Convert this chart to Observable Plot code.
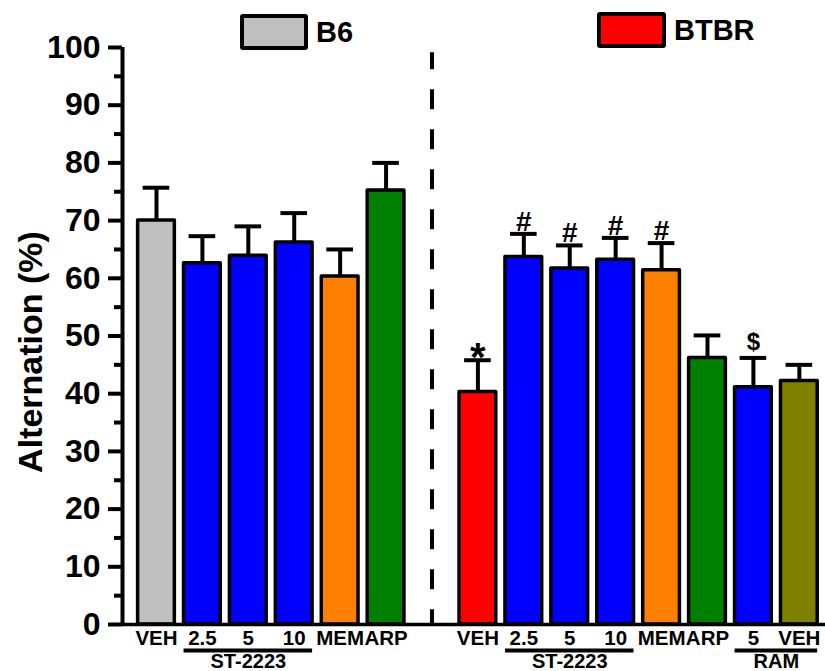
<!DOCTYPE html>
<html><head><meta charset="utf-8">
<script src="https://cdn.jsdelivr.net/npm/d3@7"></script>
<script src="https://cdn.jsdelivr.net/npm/@observablehq/plot@0.6"></script>
<style>
body{margin:0;background:#fff;font-family:"Liberation Sans",Arial,sans-serif;}
#wrap{position:relative;width:825px;height:671px;overflow:hidden}
.leg{position:absolute;display:flex;align-items:center}
.sw{box-sizing:border-box;border:4px solid #000;border-radius:3px}
.lt{font-weight:bold;font-size:29px;margin-left:8px;line-height:1}
</style></head><body><div id="wrap"></div>
<script>
// ---- data ----
const groupLabels = ["VEH","2.5","5","10","MEM","ARP","VEH","2.5","5","10","MEM","ARP","5","VEH"];
const slots       = [0,1,2,3,4,5,7,8,9,10,11,12,13,14];
const strains     = ["B6","B6","B6","B6","B6","B6","BTBR","BTBR","BTBR","BTBR","BTBR","BTBR","BTBR","BTBR"];
const treatments  = ["B6 VEH","ST-2223","ST-2223","ST-2223","MEM","ARP","BTBR VEH","ST-2223","ST-2223","ST-2223","MEM","ARP","RAM","RAM VEH"];
const means       = [70.0,62.6,63.9,66.2,60.3,75.2, 40.3,63.7,61.7,63.2,61.4,46.2,41.1,42.2];
const sems        = [5.7,4.7,5.1,5.1,4.7,4.8, 5.5,4.0,4.0,3.8,4.7,3.9,5.1,2.8];
const signif      = ["","","","","","","*","#","#","#","#","","$",""];
const brackets    = [{label:"ST-2223",from:1,to:3},{label:"ST-2223",from:8,to:10},{label:"RAM",from:13,to:14}];
const dividerSlot = 6;
const yMajor = [0,10,20,30,40,50,60,70,80,90,100];
const yMinor = [5,15,25,35,45,55,65,75,85,95];
const legendItems = [{name:"B6",key:"B6 VEH"},{name:"BTBR",key:"BTBR VEH"}];

const colorDomain = ["B6 VEH","BTBR VEH","ST-2223","MEM","ARP","RAM","RAM VEH"];
const colorRange  = ["#c0c0c0","#ff0000","#0000ff","#ff8000","#008000","#0000ff","#808000"];

const data = slots.map((s,i)=>({slot:s,label:groupLabels[i],strain:strains[i],treatment:treatments[i],mean:means[i],sem:sems[i],sig:signif[i]}));
const xDomain = [-0.74, 14.57];

const chart = Plot.plot({
  width: 825, height: 671,
  marginLeft: 122, marginRight: 0, marginTop: 47, marginBottom: 47,
  style: {fontFamily: "'Liberation Sans', Arial, sans-serif", color: "black", background: "white", overflow: "visible"},
  x: {type: "linear", domain: xDomain, label: null},
  y: {domain: [0,100], label: null},
  color: {domain: colorDomain, range: colorRange},
  marks: [
    Plot.ruleX([dividerSlot], {y1: 99.1, y2: 0, strokeWidth: 4, strokeDasharray: "20,20", strokeDashoffset: 3}),
    Plot.ruleX(data, {x: "slot", y1: "mean", y2: d => d.mean + d.sem, strokeWidth: 4}),
    Plot.ruleY(data, {y: d => d.mean + d.sem, x1: d => d.slot - 0.29, x2: d => d.slot + 0.29, strokeWidth: 4}),
    Plot.rect(data, {x1: d => d.slot - 0.4, x2: d => d.slot + 0.4, y1: d => 0, y2: "mean", fill: "treatment", stroke: "black", strokeWidth: 3.5, strokeLinejoin: "round"}),
    Plot.ruleY([0], {strokeWidth: 3.5}),
    Plot.ruleX([xDomain[0]], {y1: 0, y2: 100, strokeWidth: 4}),
    Plot.axisY({ticks: yMajor, tickSize: 14, tickPadding: 8, strokeWidth: 4, fontSize: 32, fontWeight: "bold", label: null}),
    Plot.axisY({ticks: yMinor, tickSize: 8, tickFormat: () => "", strokeWidth: 4, label: null}),
    Plot.axisX({ticks: slots, tickFormat: d => groupLabels[slots.indexOf(d)], tickSize: 0, tickPadding: 6, fontSize: 20.5, fontWeight: "bold", label: null}),
    Plot.text(["Alternation (%)"], {frameAnchor: "left", textAnchor: "middle", rotate: -90, dx: -91, dy: 16, text: d => d, fontSize: 34, fontWeight: "bold"}),
    Plot.ruleY(brackets, {y: d => 0, dy: 26, x1: d => d.from - 0.4, x2: d => d.to + 0.4, strokeWidth: 4}),
    Plot.text(brackets, {x: d => (d.from + d.to) / 2, y: d => 0, dy: 37, text: "label", fontSize: 20, fontWeight: "bold"}),
    Plot.text(data.filter(d => d.sig === "#"), {x: "slot", y: d => d.mean + d.sem, text: "sig", fontSize: 28, fontWeight: "bold", dy: -12}),
    Plot.text(data.filter(d => d.sig === "*"), {x: "slot", y: d => d.mean + d.sem, text: "sig", fontSize: 40, fontWeight: "bold", dy: -2}),
    Plot.text(data.filter(d => d.sig === "$"), {x: "slot", y: d => d.mean + d.sem, text: "sig", fontSize: 24, fontWeight: "bold", dy: -16})
  ]
});
const wrap = document.getElementById("wrap");
wrap.appendChild(chart);

const legendPos = [{left: 240, top: 14, w: 68, h: 36}, {left: 597, top: 12, w: 69, h: 36}];
legendItems.forEach((it, i) => {
  const p = legendPos[i];
  const div = document.createElement("div");
  div.className = "leg";
  div.style.left = p.left + "px"; div.style.top = p.top + "px";
  const sw = document.createElement("div");
  sw.className = "sw";
  sw.style.width = p.w + "px"; sw.style.height = p.h + "px";
  sw.style.background = colorRange[colorDomain.indexOf(it.key)];
  const t = document.createElement("span");
  t.className = "lt"; t.textContent = it.name;
  div.appendChild(sw); div.appendChild(t);
  wrap.appendChild(div);
});
</script></body></html>
